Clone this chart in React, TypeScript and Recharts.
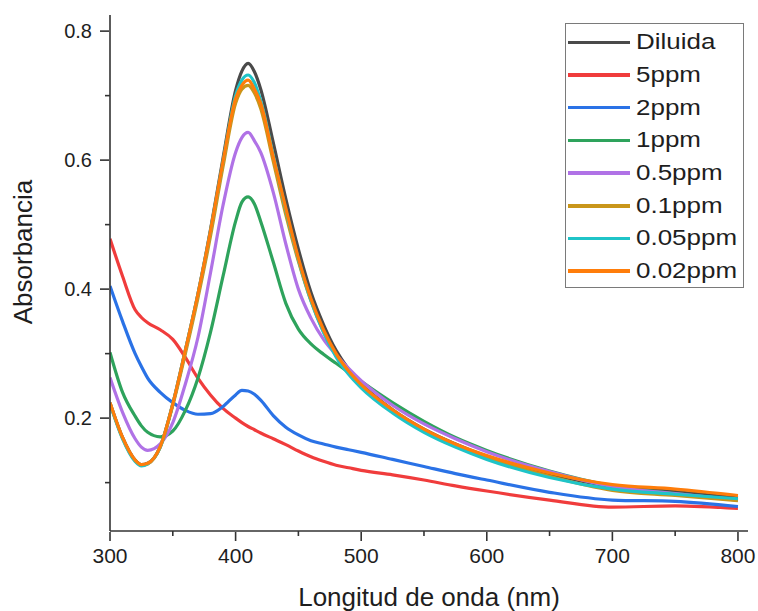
import { LineChart, Line, XAxis, YAxis, Legend } from 'recharts';

const wavelengths = [300, 310, 320, 325, 330, 340, 350, 360, 370, 380, 390, 400, 405, 410, 415, 420, 430, 440, 450, 460, 470, 480, 490, 500, 525, 550, 575, 600, 650, 700, 750, 800];

const diluida = [0.224, 0.17, 0.135, 0.128, 0.13, 0.156, 0.222, 0.305, 0.392, 0.492, 0.603, 0.708, 0.738, 0.75, 0.737, 0.71, 0.627, 0.54, 0.462, 0.395, 0.345, 0.305, 0.276, 0.254, 0.213, 0.183, 0.16, 0.141, 0.113, 0.094, 0.086, 0.076];
const ppm5 = [0.478, 0.42, 0.368, 0.356, 0.348, 0.337, 0.322, 0.294, 0.262, 0.236, 0.215, 0.2, 0.193, 0.187, 0.182, 0.177, 0.168, 0.159, 0.149, 0.14, 0.133, 0.127, 0.123, 0.119, 0.112, 0.104, 0.095, 0.087, 0.073, 0.062, 0.064, 0.06];
const ppm2 = [0.405, 0.35, 0.3, 0.28, 0.262, 0.24, 0.224, 0.212, 0.206, 0.207, 0.218, 0.236, 0.243, 0.242, 0.237, 0.228, 0.204, 0.186, 0.174, 0.165, 0.16, 0.155, 0.151, 0.147, 0.136, 0.125, 0.114, 0.104, 0.085, 0.073, 0.071, 0.063];
const ppm1 = [0.302, 0.24, 0.203, 0.188, 0.178, 0.171, 0.18, 0.212, 0.262, 0.333, 0.42, 0.505, 0.535, 0.543, 0.532, 0.505, 0.442, 0.378, 0.338, 0.315, 0.299, 0.285, 0.271, 0.257, 0.224, 0.195, 0.17, 0.15, 0.118, 0.095, 0.083, 0.073];
const ppm05 = [0.263, 0.209, 0.168, 0.155, 0.15, 0.16, 0.193, 0.253, 0.325, 0.425, 0.53, 0.612, 0.635, 0.643, 0.63, 0.612, 0.55, 0.47, 0.4, 0.355, 0.322, 0.298, 0.277, 0.258, 0.22, 0.191, 0.168, 0.148, 0.117, 0.094, 0.083, 0.073];
const ppm01 = [0.223, 0.169, 0.134, 0.127, 0.129, 0.155, 0.22, 0.3, 0.386, 0.482, 0.59, 0.688, 0.71, 0.716, 0.704, 0.68, 0.598, 0.515, 0.443, 0.382, 0.334, 0.297, 0.27, 0.249, 0.21, 0.18, 0.157, 0.139, 0.11, 0.088, 0.08, 0.072];
const ppm005 = [0.222, 0.168, 0.133, 0.126, 0.129, 0.155, 0.222, 0.305, 0.392, 0.49, 0.598, 0.7, 0.724, 0.732, 0.72, 0.692, 0.607, 0.522, 0.446, 0.382, 0.333, 0.295, 0.268, 0.247, 0.208, 0.178, 0.155, 0.136, 0.108, 0.09, 0.082, 0.075];
const ppm002 = [0.224, 0.17, 0.135, 0.128, 0.13, 0.156, 0.222, 0.305, 0.392, 0.49, 0.598, 0.695, 0.716, 0.724, 0.71, 0.688, 0.605, 0.525, 0.448, 0.385, 0.337, 0.3, 0.273, 0.252, 0.213, 0.183, 0.16, 0.142, 0.115, 0.097, 0.09, 0.08];

const xMajorTicks = [300, 400, 500, 600, 700, 800];
const xMinorTicks = [350, 450, 550, 650, 750];
const yMajorTicks = [0.2, 0.4, 0.6, 0.8];
const yMinorTicks = [0.1, 0.3, 0.5, 0.7];

const seriesList = [
  { key: 'Diluida', values: diluida, color: '#4a4a4a' },
  { key: '5ppm', values: ppm5, color: '#f03c3c' },
  { key: '2ppm', values: ppm2, color: '#2a72e6' },
  { key: '1ppm', values: ppm1, color: '#2ea35c' },
  { key: '0.5ppm', values: ppm05, color: '#b072e6' },
  { key: '0.1ppm', values: ppm01, color: '#c9961a' },
  { key: '0.05ppm', values: ppm005, color: '#1fc4c8' },
  { key: '0.02ppm', values: ppm002, color: '#ff7d0a' },
];

const data = wavelengths.map((wl, i) => {
  const row: Record<string, number> = { wl };
  seriesList.forEach((s) => { row[s.key] = s.values[i]; });
  return row;
});

const FONT = '"Liberation Sans", Arial, sans-serif';
const INK = '#1e1e1e';
const AXIS = '#333';
const X_DOMAIN: [number, number] = [300, 808];
const Y_DOMAIN: [number, number] = [0.025, 0.825];
const tickStroke = { stroke: AXIS, strokeWidth: 1.6 };

// tick-mark-only axes get their own (nudged) tick values so they don't share keys with the label axis
const xMarkTicks = xMajorTicks.map((v) => v + 0.01);
const yMarkTicks = yMajorTicks.map((v) => v + 0.00001);

function LegendBox() {
  return (
    <div style={{ width: 179, height: 265, border: '1.5px solid #7a7a7a', boxSizing: 'border-box', background: '#fff', paddingTop: 2 }}>
      {seriesList.map((s) => (
        <div key={s.key} style={{ display: 'flex', alignItems: 'center', height: 32.7 }}>
          <span style={{ display: 'inline-block', width: 62, height: 3.5, marginLeft: 2, background: s.color }} />
          <span style={{ display: 'inline-block', marginLeft: 6, fontSize: 22, fontFamily: FONT, color: INK, transform: 'scaleX(1.18)', transformOrigin: 'left center', lineHeight: 1 }}>
            {s.key}
          </span>
        </div>
      ))}
    </div>
  );
}

const noTick = () => <g />;

export default function App() {
  return (
    <div style={{ position: 'absolute', left: 0, top: 0, width: 758, height: 611, background: '#fff' }}>
      <LineChart width={758} height={611} data={data} margin={{ top: 15, right: 10, bottom: 0, left: 0 }}>
        {/* outer axes: tick labels and titles */}
        <XAxis
          xAxisId="main"
          type="number"
          dataKey="wl"
          domain={X_DOMAIN}
          ticks={xMajorTicks}
          interval={0}
          height={78}
          tickSize={0}
          tickMargin={15}
          tickLine={false}
          axisLine={false}
          tick={{ fontSize: 21, fontFamily: FONT, fill: INK }}
          allowDataOverflow
          label={{ value: 'Longitud de onda (nm)', position: 'insideBottom', offset: 5, fontSize: 26, fontFamily: FONT, fill: INK }}
        />
        <YAxis
          yAxisId="main"
          type="number"
          domain={Y_DOMAIN}
          ticks={yMajorTicks}
          interval={0}
          width={108}
          tickSize={0}
          tickMargin={16}
          tickLine={false}
          axisLine={false}
          tick={{ fontSize: 20, fontFamily: FONT, fill: INK }}
          tickFormatter={(v: number) => v.toFixed(1)}
          allowDataOverflow
          label={{
            content: () => (
              <text transform="translate(32, 252) rotate(-90)" textAnchor="middle" fontSize={26} fontFamily={FONT} fill={INK}>
                Absorbancia
              </text>
            ),
          }}
        />
        {/* major tick marks */}
        <XAxis
          xAxisId="b"
          type="number"
          dataKey="wl"
          domain={X_DOMAIN}
          ticks={xMarkTicks}
          interval={0}
          height={1}
          axisLine={false}
          tickSize={9}
          tickLine={tickStroke}
          tick={noTick}
          allowDataOverflow
        />
        <YAxis
          yAxisId="b"
          type="number"
          domain={Y_DOMAIN}
          ticks={yMarkTicks}
          interval={0}
          width={1}
          axisLine={false}
          tickSize={9}
          tickLine={tickStroke}
          tick={noTick}
          allowDataOverflow
        />
        {/* minor tick marks + axis lines on the plot edge */}
        <XAxis
          xAxisId="a"
          type="number"
          dataKey="wl"
          domain={X_DOMAIN}
          ticks={xMinorTicks}
          interval={0}
          height={1}
          axisLine={tickStroke}
          tickSize={5}
          tickLine={tickStroke}
          tick={noTick}
          allowDataOverflow
        />
        <YAxis
          yAxisId="a"
          type="number"
          domain={Y_DOMAIN}
          ticks={yMinorTicks}
          interval={0}
          width={1}
          axisLine={tickStroke}
          tickSize={5}
          tickLine={tickStroke}
          tick={noTick}
          allowDataOverflow
        />
        {seriesList.map((s) => (
          <Line
            key={s.key}
            xAxisId="main"
            yAxisId="main"
            type="monotone"
            dataKey={s.key}
            stroke={s.color}
            strokeWidth={3.2}
            dot={false}
            isAnimationActive={false}
          />
        ))}
        <Legend
          layout="vertical"
          align="center"
          verticalAlign="middle"
          content={() => <LegendBox />}
          wrapperStyle={{ position: 'absolute', left: 565, top: 23, width: 179, height: 265 }}
        />
      </LineChart>
    </div>
  );
}
